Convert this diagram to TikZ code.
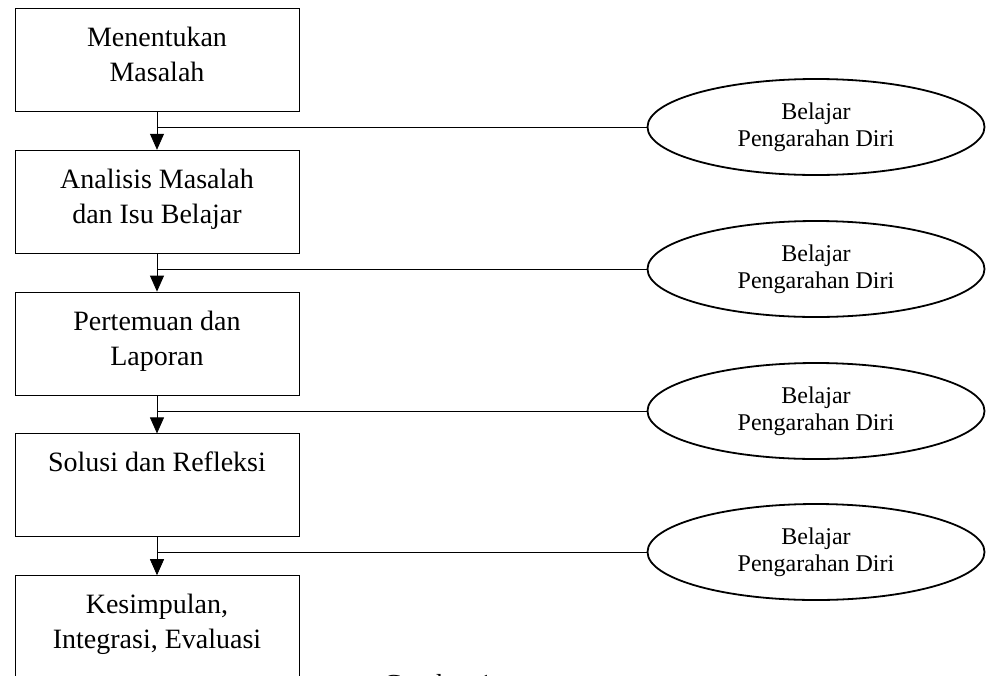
\documentclass[tikz,border=0pt]{standalone}
\usepackage{fontspec}
\setmainfont{Liberation Serif}
\usetikzlibrary{arrows.meta,positioning,shapes.geometric}

\newcommand{\steptext}[1]{\parbox[c][103pt][t]{284pt}{\centering\rule{0pt}{38pt}#1}}

\begin{document}
\begin{tikzpicture}[x=1pt,y=-1pt,>={Triangle[width=14pt,length=16pt]},
                    node distance=38pt,
                    langkah/.style={draw,line width=0.8pt,minimum width=284pt,minimum height=103pt,
                                    inner sep=0pt,font=\fontsize{28}{35}\selectfont},
                    belajar/.style={draw,ellipse,line width=1.8pt,minimum width=337pt,minimum height=96pt,
                                    inner sep=0pt,align=center,font=\fontsize{24}{27}\selectfont},
                    link/.style={line width=0.8pt}]
  \useasboundingbox (0,0) rectangle (987,675);
  \clip (0,0) rectangle (987,675);

  \node[langkah, anchor=north] (m1) at (157,8) {\steptext{Menentukan\\Masalah}};
  \node[langkah] (m2) [below=of m1] {\steptext{Analisis Masalah\\dan Isu Belajar}};
  \node[langkah] (m3) [below=of m2] {\steptext{Pertemuan dan\\Laporan}};
  \node[langkah] (m4) [below=of m3] {\steptext{Solusi dan Refleksi}};
  \node[langkah] (m5) [below=of m4] {\steptext{Kesimpulan,\\Integrasi, Evaluasi}};

  \node[belajar] (e1) at (816,127) {Belajar\\Pengarahan Diri};
  \node[belajar] (e2) at (816,269) {Belajar\\Pengarahan Diri};
  \node[belajar] (e3) at (816,411) {Belajar\\Pengarahan Diri};
  \node[belajar] (e4) at (816,552) {Belajar\\Pengarahan Diri};

  \node[anchor=base west, inner sep=0pt, font=\fontsize{27.5}{35}\selectfont] (judul) at (383,693) {Gambar 1};

  \path[link] (m1) edge[->] (m2)
              (m2) edge[->] (m3)
              (m3) edge[->] (m4)
              (m4) edge[->] (m5);

  \draw[link] (e1.west) -- (e1.west -| m1.south);
  \draw[link] (e2.west) -- (e2.west -| m2.south);
  \draw[link] (e3.west) -- (e3.west -| m3.south);
  \draw[link] (e4.west) -- (e4.west -| m4.south);
\end{tikzpicture}
\end{document}
